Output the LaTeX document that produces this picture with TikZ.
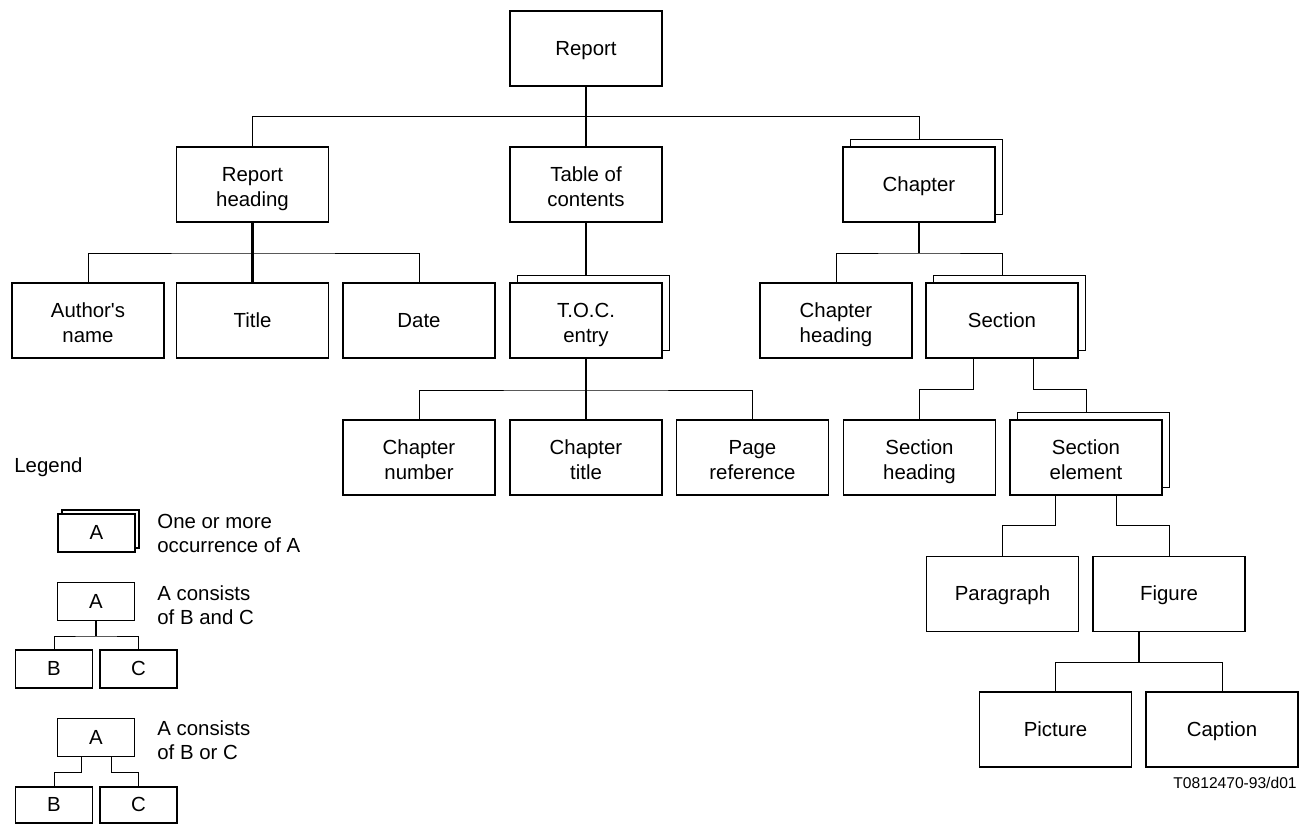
\documentclass[tikz,border=0pt]{standalone}
\usepackage{fontspec}
\setmainfont{Liberation Sans}
\usetikzlibrary{shadows}

\begin{document}
\begin{tikzpicture}[
                    x=0.5pt, y=-0.5pt,
                    box style/.style={
                        draw,
                        line width=0.65pt,
                        fill=white,
                        align=center,
                        font=\fontsize{10.2pt}{12.5pt}\selectfont,
                        execute at begin node=\rule{0pt}{#1},
                        execute at end node=\rule[-2.3pt]{0pt}{2.3pt},
                        inner sep=0pt,
                        minimum width=76pt,
                        minimum height=37.5pt
                    },
                    box style/.default=9.1pt,
                    pair style/.style={box style=24.1pt},
                    many style/.style={
                        copy shadow={shadow xshift=#1, shadow yshift=#1, draw, fill=white, line width=0.65pt}
                    },
                    many style/.default=3.75pt,
                    small style/.style={box style, minimum width=38.5pt, minimum height=19pt},
                    stem style/.style={draw, line width=1.1pt},
                    link style/.style={draw, line width=0.5pt},
                    note style/.style={anchor=west, align=left, inner sep=0pt, font=\fontsize{10.2pt}{12pt}\selectfont}
                ]
    \useasboundingbox (0,0) rectangle (1299,824);

    % the tree
    \node[box style] (report) at (586,48.5) {Report};
    \node[pair style] (rhead) at (252.5,184.5) {Report\\heading};
    \node[pair style] (toc) at (586,184.5) {Table of\\contents};
    \node[box style, many style] (chap) at (919,184.5) {Chapter};

    \node[pair style] (author) at (88,320.5) {Author\textquotesingle s\\name};
    \node[box style] (title) at (252.5,320.5) {Title};
    \node[box style] (date) at (419,320.5) {Date};
    \node[pair style, many style] (tocentry) at (586,320.5) {T.O.C.\\entry};
    \node[pair style] (chead) at (836,320.5) {Chapter\\heading};
    \node[box style, many style] (section) at (1002,320.5) {Section};

    \node[pair style] (chnum) at (419,457.5) {Chapter\\number};
    \node[pair style] (chtitle) at (586,457.5) {Chapter\\title};
    \node[pair style] (pageref) at (752.5,457.5) {Page\\reference};
    \node[pair style] (shead) at (919.5,457.5) {Section\\heading};
    \node[pair style, many style] (selem) at (1086,457.5) {Section\\element};

    \node[box style] (para) at (1002.5,594) {Paragraph};
    \node[box style] (figure) at (1169,594) {Figure};

    \node[box style] (picture) at (1055.5,729.5) {Picture};
    \node[box style] (caption) at (1222,729.5) {Caption};

    \node[anchor=east, inner sep=0pt, font=\fontsize{7.8pt}{9pt}\selectfont] (code) at (1297,783) {T0812470-93/d01};

    % connectors
    \coordinate (j1) at (586,116.7);
    \draw[stem style] (report) -- (toc);
    \draw[link style] (rhead.north) |- (j1) -| ([yshift=3.75pt]chap.north);

    \coordinate (j2) at (252.5,253);
    \draw[stem style] (rhead) -- (title);
    \draw[link style] (author.north) |- (j2) -| (date.north);

    \draw[stem style] (toc) -- ([yshift=3.75pt]tocentry.north);
    \coordinate (j3) at (586,390);
    \draw[stem style] (tocentry) -- (chtitle);
    \draw[link style] (chnum.north) |- (j3) -| (pageref.north);

    \coordinate (j4) at (919,253);
    \draw[stem style] (chap) -- (j4);
    \draw[link style] (chead.north) |- (j4) -| ([yshift=3.75pt]section.north);

    \coordinate (j5) at (919.5,389);
    \coordinate (j6) at (1086,389);
    \draw[link style] ([xshift=-14.5pt]section.south) |- (j5) -- (shead.north);
    \draw[link style] ([xshift=15.5pt]section.south) |- (j6) -- ([yshift=3.75pt]selem.north);

    \coordinate (j7) at (1002.5,525);
    \coordinate (j8) at (1169,525);
    \draw[link style] ([xshift=-15.5pt]selem.south) |- (j7) -- (para.north);
    \draw[link style] ([xshift=15pt]selem.south) |- (j8) -- (figure.north);

    \coordinate (j9) at (1139,662);
    \draw[stem style] ([xshift=-15pt]figure.south) -- (j9);
    \draw[link style] (picture.north) |- (j9) -| (caption.north);

    % legend
    \node[note style] (legend) at (14,467) {Legend};

    \node[small style, many style=2pt] (lgmany) at (96.5,533) {A};
    \node[note style] (lgmanytext) at (157,533) {One or more\\occurrence of A};

    \node[small style] (lgand) at (96,601.5) {A};
    \node[note style] (lgandtext) at (157,605) {A consists\\of B and C};
    \node[small style] (lgandb) at (54,669) {B};
    \node[small style] (lgandc) at (138.5,669) {C};
    \coordinate (j10) at (96,636);
    \draw[stem style] (lgand) -- (j10);
    \draw[link style] (lgandb.north) |- (j10) -| (lgandc.north);

    \node[small style] (lgor) at (96,737.5) {A};
    \node[note style] (lgortext) at (157,740.5) {A consists\\of B or C};
    \node[small style, minimum height=18pt] (lgorb) at (54,805) {B};
    \node[small style, minimum height=18pt] (lgorc) at (138.5,805) {C};
    \coordinate (j11) at (54,772);
    \coordinate (j12) at (138.5,772);
    \draw[link style] ([xshift=-7.5pt]lgor.south) |- (j11) -- (lgorb);
    \draw[link style] ([xshift=7.5pt]lgor.south) |- (j12) -- (lgorc);
\end{tikzpicture}
\end{document}
